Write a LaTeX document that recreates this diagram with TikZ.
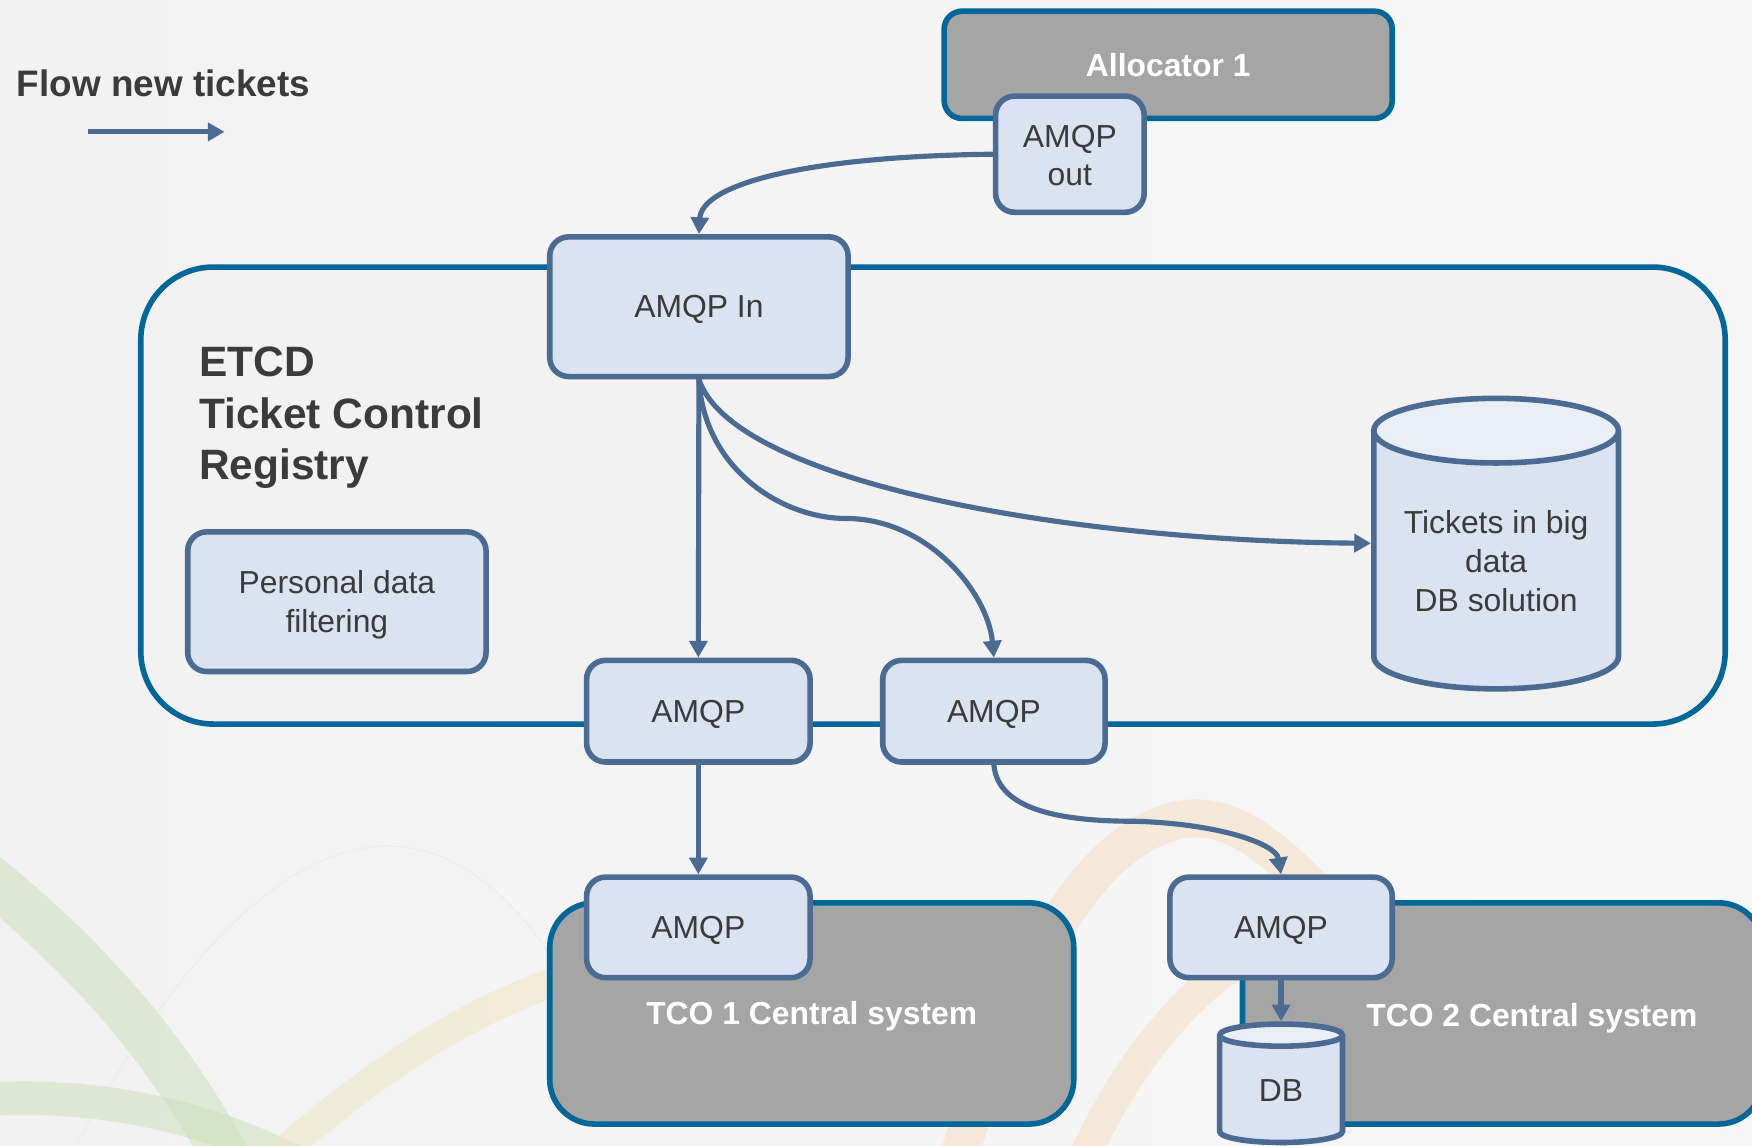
\documentclass[tikz,border=0pt]{standalone}
\usepackage{fontspec}
\setmainfont{Liberation Sans}
\usetikzlibrary{shapes.geometric,arrows.meta}

\definecolor{portfill}{HTML}{DAE3F1}
\definecolor{capfill}{HTML}{E9EEF7}
\definecolor{portline}{HTML}{4A6B94}
\definecolor{contline}{HTML}{00679B}
\definecolor{sysgray}{HTML}{A5A5A5}
\definecolor{regfill}{HTML}{F2F2F2}
\definecolor{txt}{HTML}{3B3B3B}
\definecolor{swgreen}{HTML}{C9DFB8}
\definecolor{swyellow}{HTML}{F1E6BE}
\definecolor{sworange}{HTML}{F6DDBE}

\tikzset{
  port/.style={draw=portline, fill=portfill, line width=5pt, rounded corners=17pt,
    text=txt, font=\fontsize{28.5}{35}\selectfont, align=center, inner sep=0pt,
    outer sep=2.5pt, text depth=0pt},
  sysbox/.style={draw=contline, fill=sysgray, line width=5pt, text=white,
    font=\bfseries\fontsize{28.5}{35}\selectfont, inner sep=0pt, text depth=0pt},
  dbcyl/.style={cylinder, shape border rotate=90, draw=portline, line width=5pt,
    cylinder uses custom fill, cylinder end fill=capfill, cylinder body fill=portfill,
    text=txt, font=\fontsize{28.5}{34.5}\selectfont, align=center, inner sep=0pt, outer sep=2.5pt},
  flow/.style={draw=portline, line width=4.6pt, -{Triangle[length=15pt,width=16pt]}},
  swoosh/.style={line width=#1, line cap=butt},
}

\begin{document}
\begin{tikzpicture}[x=1pt,y=-1pt]
  % page and slide background
  \useasboundingbox (0,0) rectangle (1568,1025);
  \clip (0,0) rectangle (1568,1025);
  \shade[left color=regfill, right color=white!97!black] (0,0) rectangle (1568,1025);

  % faint decorative ribbons of the slide template
  \begin{scope}[opacity=0.5]
    \draw[swoosh=42pt, swgreen] (-30,770) .. controls (60,840) and (150,930) .. (215,1060);
    \draw[swoosh=30pt, swgreen] (-30,985) .. controls (90,975) and (200,1000) .. (300,1060);
    \draw[swoosh=26pt, swyellow] (220,1060) .. controls (330,960) and (430,890) .. (560,860);
    \draw[swoosh=0.8pt, black!10] (50,1060) .. controls (200,760) and (380,640) .. (520,900);
    \draw[swoosh=34pt, sworange] (850,1060) .. controls (900,900) and (960,760) .. (1050,735)
          .. controls (1100,722) and (1140,760) .. (1180,800);
    \draw[swoosh=28pt, sworange] (960,1060) .. controls (1000,960) and (1060,890) .. (1110,860);
  \end{scope}

  % containers
  \node[draw=contline, fill=regfill, line width=5pt, rounded corners=65pt,
        minimum width=1418pt, minimum height=409pt, inner sep=0pt] (etcd) at (835,443.5) {};
  \node[sysbox, rounded corners=16pt, minimum width=401pt, minimum height=96pt]
        (alloc) at (1045.5,58) {Allocator 1};
  \node[sysbox, rounded corners=40pt, minimum width=469pt, minimum height=198pt]
        (tco1) at (726.5,907) {TCO 1 Central system};
  \node[sysbox, rounded corners=40pt, minimum width=466pt, minimum height=198pt]
        (tco2) at (1345,907) {};
  \node[text=white, font=\bfseries\fontsize{28.5}{35}\selectfont, text depth=0pt]
        (tco2label) at (1371,908) {TCO 2 Central system};

  % registry title
  \node[anchor=west, text=txt, align=left, inner sep=0pt,
        font=\bfseries\fontsize{38}{46}\selectfont] (etcdtitle) at (178,374)
        {ETCD\\Ticket Control\\Registry};

  % ports and components
  \node[port, minimum width=133pt, minimum height=104pt] (aout) at (957.5,138)
        {\raisebox{-2pt}{AMQP}\\[-1pt]\raisebox{-2pt}{out}};
  \node[port, minimum width=267pt, minimum height=125pt] (ain) at (625.5,274.5) {AMQP In};
  \node[port, minimum width=267pt, minimum height=125pt] (pdf) at (301.5,538.5) {Personal data\\filtering};
  \node[port, minimum width=200pt, minimum height=91pt] (aleft) at (625,636.5) {AMQP};
  \node[port, minimum width=199pt, minimum height=91pt] (aright) at (889.5,636.5) {AMQP};
  \node[port, minimum width=200pt, minimum height=90pt] (atco1) at (625,830) {AMQP};
  \node[port, minimum width=199pt, minimum height=90pt] (atco2) at (1146.5,830) {AMQP};

  \node[dbcyl, minimum width=219pt, minimum height=260pt, aspect=0.35, anchor=north]
        (tick) at (1339,354) {Tickets in big\\data\\DB solution};
  \node[dbcyl, minimum width=110pt, minimum height=106pt, aspect=0.5, anchor=north]
        (db) at (1146.5,914) {DB};

  % legend
  \node[anchor=west, text=txt, inner sep=0pt, font=\bfseries\fontsize{33}{40}\selectfont]
        (legend) at (15,75) {Flow new tickets};
  \coordinate (legA) at (79,118);
  \coordinate (legB) at (201,118);
  \draw[flow] (legA) -- (legB);

  % ticket flow
  \draw[flow] (aout.west) .. controls (720,140) and (628,165) .. (ain.north);
  \draw[flow] (ain.south) -- (aleft.north);
  \draw[flow] (ain.south) .. controls (630,420) and (700,464) .. (757,464)
              .. controls (830,464) and (884,530) .. (aright.north);
  \draw[flow] (ain.south) .. controls (655,430) and (950,484) .. ([yshift=16pt]tick.west);
  \draw[flow] (aleft.south) -- (atco1.north);
  \draw[flow] (aright.south) .. controls (893,725) and (950,735) .. (1015,735)
              .. controls (1090,737) and (1142,755) .. (atco2.north);
  \draw[flow] (atco2.south) -- (db.north);
\end{tikzpicture}
\end{document}
